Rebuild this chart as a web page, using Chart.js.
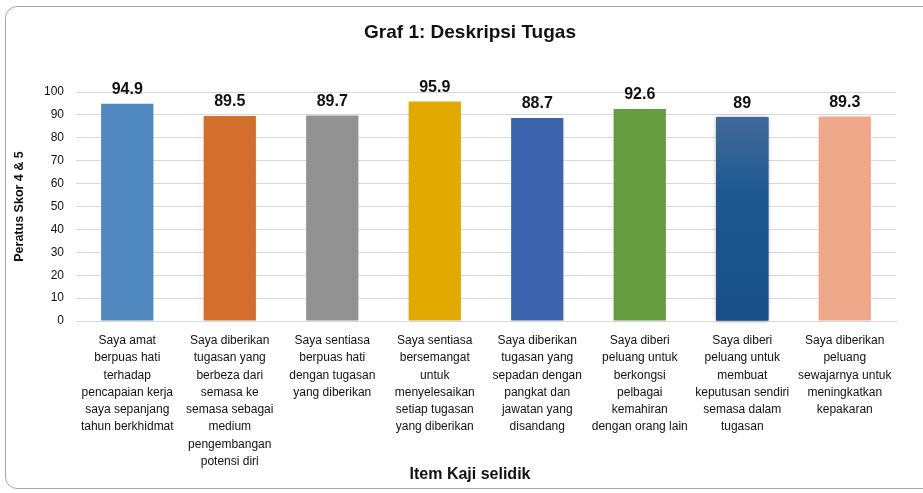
<!DOCTYPE html>
<html>
<head>
<meta charset="utf-8">
<script src="https://cdn.jsdelivr.net/npm/chart.js@4.4.1/dist/chart.umd.min.js"></script>
<style>
html,body{margin:0;padding:0;background:#fff;overflow:hidden;}
#frame{position:absolute;left:5px;top:6px;width:940px;height:483px;border:1px solid #a6a6a6;border-radius:12px;box-sizing:border-box;}
#wrap{position:absolute;left:0;top:0;width:923px;height:493px;}
</style>
</head>
<body>
<div id="frame"></div>
<div id="wrap"><canvas id="c" width="923" height="493"></canvas></div>
<script>
const categories = [
  ["Saya amat","berpuas hati","terhadap","pencapaian kerja","saya sepanjang","tahun berkhidmat"],
  ["Saya diberikan","tugasan yang","berbeza dari","semasa ke","semasa sebagai","medium","pengembangan","potensi diri"],
  ["Saya sentiasa","berpuas hati","dengan tugasan","yang diberikan"],
  ["Saya sentiasa","bersemangat","untuk","menyelesaikan","setiap tugasan","yang diberikan"],
  ["Saya diberikan","tugasan yang","sepadan dengan","pangkat dan","jawatan yang","disandang"],
  ["Saya diberi","peluang untuk","berkongsi","pelbagai","kemahiran","dengan orang lain"],
  ["Saya diberi","peluang untuk","membuat","keputusan sendiri","semasa dalam","tugasan"],
  ["Saya diberikan","peluang","sewajarnya untuk","meningkatkan","kepakaran"]
];
const values = [94.9, 89.5, 89.7, 95.9, 88.7, 92.6, 89, 89.3];
const valueLabels = ["94.9","89.5","89.7","95.9","88.7","92.6","89","89.3"];
const barColors = ["#4F89BF","#D36E2C","#929292","#E2A900","#3C64AE","#659C3D",null,"#F0A88A"];
const chartTitle = "Graf 1: Deskripsi Tugas";
const xAxisTitle = "Item Kaji selidik";

const FONT = "'Liberation Sans',Arial,sans-serif";
const TITLE_CX = 470;

const labelPlugin = {
  id: 'valueLabels',
  afterDatasetsDraw(chart) {
    const ctx = chart.ctx;
    const meta = chart.getDatasetMeta(0);
    ctx.save();
    ctx.font = "bold 16px " + FONT;
    ctx.fillStyle = "#111";
    ctx.textAlign = "center";
    ctx.textBaseline = "bottom";
    meta.data.forEach((bar, i) => {
      ctx.fillText(valueLabels[i], bar.x, bar.y - 6);
    });
    ctx.restore();
  }
};

const titlesPlugin = {
  id: 'titles',
  afterDraw(chart) {
    const ctx = chart.ctx;
    ctx.save();
    ctx.fillStyle = "#111";
    ctx.textAlign = "center";
    ctx.textBaseline = "middle";
    ctx.font = "bold 19px " + FONT;
    ctx.fillText(chartTitle, TITLE_CX, 33);
    ctx.font = "bold 16px " + FONT;
    ctx.fillText(xAxisTitle, TITLE_CX, chart.height - 18);
    ctx.restore();
  }
};

const shadowPlugin = {
  id: 'barShadow',
  beforeDatasetsDraw(chart) {
    const ctx = chart.ctx;
    const bar = chart.getDatasetMeta(0).data[6];
    if (!bar) return;
    ctx.save();
    ctx.shadowColor = "rgba(0,0,0,0.3)";
    ctx.shadowBlur = 4;
    ctx.fillStyle = "#1A5089";
    ctx.fillRect(bar.x - bar.width/2, bar.y, bar.width, bar.base - bar.y);
    ctx.restore();
  }
};

new Chart(document.getElementById('c'), {
  type: 'bar',
  data: {
    labels: categories,
    datasets: [{
      data: values,
      backgroundColor: (c) => {
        const i = c.dataIndex;
        if (i === 6) {
          const area = c.chart.chartArea;
          if (!area) return "#1A5089";
          const el = c.chart.getDatasetMeta(0).data[6];
          const top = el && isFinite(el.y) ? el.y : area.top;
          const g = c.chart.ctx.createLinearGradient(0, top, 0, area.bottom);
          g.addColorStop(0, "#4B6F9D");
          g.addColorStop(0.45, "#1E5890");
          g.addColorStop(1, "#184F89");
          return g;
        }
        return barColors[i];
      },
      borderWidth: 0,
      barPercentage: 0.51,
      categoryPercentage: 1.0
    }]
  },
  options: {
    responsive: false,
    animation: false,
    events: [],
    layout: { padding: { left: 12, right: 27, top: 92, bottom: 0 } },
    plugins: {
      legend: { display: false },
      tooltip: { enabled: false },
      title: { display: false }
    },
    scales: {
      x: {
        grid: { display: false },
        border: { display: true, color: "#d9d9d9" },
        afterFit(scale) { scale.height = 172; },
        ticks: {
          color: "#111",
          font: { family: FONT, size: 12, lineHeight: 1.44 },
          maxRotation: 0,
          autoSkip: false,
          padding: 3
        }
      },
      y: {
        min: 0,
        max: 100,
        ticks: {
          stepSize: 10,
          color: "#111",
          font: { family: FONT, size: 12 },
          padding: 12
        },
        grid: { color: "#d9d9d9", drawTicks: false },
        border: { display: false },
        title: {
          display: true,
          text: "Peratus Skor 4 & 5",
          color: "#111",
          font: { family: FONT, size: 12.5, weight: 'bold' },
          padding: { top: 0, bottom: 5 }
        }
      }
    }
  },
  plugins: [shadowPlugin, labelPlugin, titlesPlugin]
});
</script>
</body>
</html>
